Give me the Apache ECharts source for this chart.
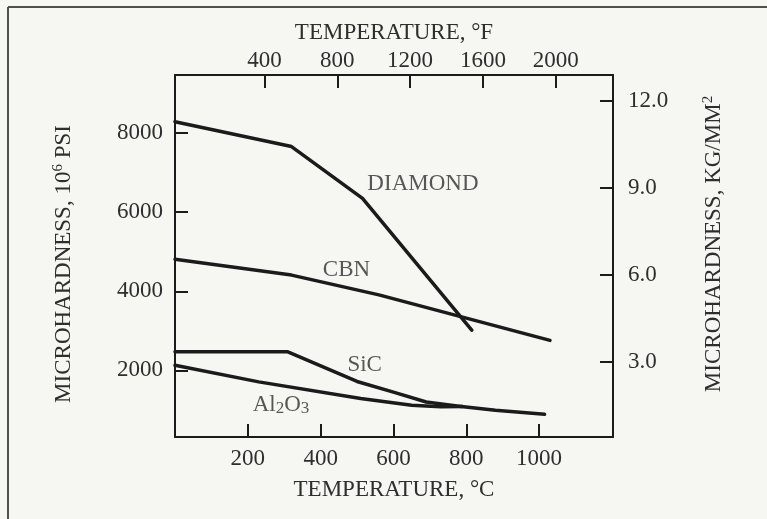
<!DOCTYPE html>
<html>
<head>
<meta charset="utf-8">
<script src="https://cdn.jsdelivr.net/npm/echarts@6/dist/echarts.min.js"></script>
<style>
html,body{margin:0;padding:0;background:#f6f6f3;}
#c{width:767px;height:519px;}
</style>
</head>
<body>
<div id="c"></div>
<script>
// Data (temperature in °C, microhardness in 10^6 psi units)
const diamondTemp = [0, 320, 515, 815];
const diamondHard = [8290, 7660, 6350, 3020];
const cbnTemp = [0, 320, 560, 1030];
const cbnHard = [4810, 4410, 3910, 2760];
const sicTemp = [0, 310, 500, 600, 690, 780, 880, 1015];
const sicHard = [2470, 2470, 1720, 1450, 1200, 1095, 990, 890];
const al2o3Temp = [0, 230, 510, 650, 730, 790];
const al2o3Hard = [2130, 1710, 1290, 1120, 1080, 1090];

const seriesLabels = ['DIAMOND', 'CBN', 'SiC', '{n|Al}{sub|2}{n|O}{sub|3}'];
const labelTemp = [681, 471, 521, 291];
const labelHard = [6714, 4537, 2132, 1119];

const celsiusTicks = [200, 400, 600, 800, 1000];
const fahrenheitTicks = [400, 800, 1200, 1600, 2000];
const psiTicks = [2000, 4000, 6000, 8000];
const kgTicks = [3, 6, 9, 12];

const FONT = '"Liberation Serif","DejaVu Serif",serif';
const TXT = '#2e2e2e';
const INK = '#1b1b1b';
const FS = 23;

function pairs(xs, ys) { return xs.map((x, i) => [x, ys[i]]); }

const tickStyle = { show: true, inside: true, length: 13, lineStyle: { color: INK, width: 2 } };
const lineStyleAx = { show: true, onZero: false, lineStyle: { color: INK, width: 2 } };
const lbl = { color: TXT, fontFamily: FONT, fontSize: FS, formatter: v => String(v) };
const richName = { n: { fontFamily: FONT, fontSize: FS, color: TXT },
          sup: { fontFamily: FONT, fontSize: 15, color: TXT, verticalAlign: 'top', padding: [0, 0, 10, 0] } };
const nameStyle = { color: TXT, fontFamily: FONT, fontSize: FS, rich: richName };

const chart = echarts.init(document.getElementById('c'), null, { renderer: 'canvas' });
const lineSeries = (name, xs, ys) => ({
  name, type: 'line', xAxisIndex: 0, yAxisIndex: 0, data: pairs(xs, ys),
  showSymbol: false, symbol: 'none', silent: true,
  lineStyle: { color: INK, width: 3.5, cap: 'round', join: 'round' }
});

chart.setOption({
  backgroundColor: '#f6f6f3',
  animation: false,
  grid: { left: 175, right: 154, top: 75, bottom: 82, containLabel: false },
  graphic: [
    { type: 'line', shape: { x1: 8, y1: 7, x2: 767, y2: 7 }, style: { stroke: '#505050', lineWidth: 2 } },
    { type: 'line', shape: { x1: 8, y1: 7, x2: 8, y2: 519 }, style: { stroke: '#505050', lineWidth: 2 } }
  ],
  xAxis: [
    { type: 'value', position: 'bottom', min: 0, max: 1203,
      axisLine: lineStyleAx, splitLine: { show: false },
      axisTick: Object.assign({ customValues: celsiusTicks }, tickStyle),
      axisLabel: Object.assign({ customValues: celsiusTicks, margin: 10 }, lbl),
      name: 'TEMPERATURE, °C', nameLocation: 'middle', nameGap: 41, nameTextStyle: nameStyle },
    { type: 'value', position: 'top', min: -91, max: 2314,
      axisLine: lineStyleAx, splitLine: { show: false },
      axisTick: Object.assign({ customValues: fahrenheitTicks }, tickStyle),
      axisLabel: Object.assign({ customValues: fahrenheitTicks, margin: 3 }, lbl),
      name: 'TEMPERATURE, °F', nameLocation: 'middle', nameGap: 31, nameTextStyle: nameStyle }
  ],
  yAxis: [
    { type: 'value', position: 'left', min: 316, max: 9470,
      axisLine: lineStyleAx, splitLine: { show: false },
      axisTick: Object.assign({ customValues: psiTicks }, tickStyle),
      axisLabel: Object.assign({ customValues: psiTicks, margin: 12 }, lbl),
      name: '{n|MICROHARDNESS, 10}{sup|6}{n| PSI}', nameLocation: 'middle', nameRotate: 90, nameGap: 99,
      nameTextStyle: Object.assign({}, nameStyle, { padding: [0, 16, 0, 0] }) },
    { type: 'value', position: 'right', min: 0.40, max: 12.89,
      axisLine: lineStyleAx, splitLine: { show: false },
      axisTick: Object.assign({ customValues: kgTicks }, tickStyle),
      axisLabel: Object.assign({}, lbl, { customValues: kgTicks, margin: 15, formatter: v => v.toFixed(1) }),
      name: '{n|MICROHARDNESS, KG/MM}{sup|2}', nameLocation: 'middle', nameRotate: 90, nameGap: 88,
      nameTextStyle: Object.assign({}, nameStyle, { padding: [0, 0, 0, 24] }) }
  ],
  series: [
    lineSeries('DIAMOND', diamondTemp, diamondHard),
    lineSeries('CBN', cbnTemp, cbnHard),
    lineSeries('SiC', sicTemp, sicHard),
    lineSeries('Al2O3', al2o3Temp, al2o3Hard),
    { type: 'scatter', xAxisIndex: 0, yAxisIndex: 0, symbolSize: 0, silent: true,
      data: labelTemp.map((t, i) => ({ value: [t, labelHard[i]], name: seriesLabels[i] })),
      label: { show: true, position: 'inside', formatter: p => p.name,
        color: TXT, fontFamily: FONT, fontSize: FS,
        rich: { n: { fontFamily: FONT, fontSize: FS, color: TXT, lineHeight: 23 },
                sub: { fontFamily: FONT, fontSize: 17, color: TXT, verticalAlign: 'bottom', lineHeight: 17, padding: [18, 0, 0, 0] } } } }
  ]
});
</script>
</body>
</html>
